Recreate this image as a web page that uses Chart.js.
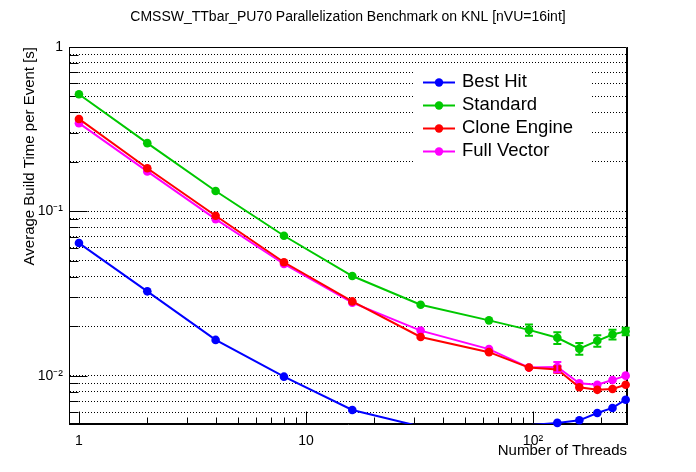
<!DOCTYPE html>
<html>
<head>
<meta charset="utf-8">
<script src="https://cdn.jsdelivr.net/npm/chart.js@4.4.0/dist/chart.umd.min.js"></script>
<style>
  html, body { margin: 0; padding: 0; background: #fff; }
  #wrap { width: 696px; height: 472px; }
</style>
</head>
<body>
<div id="wrap"><canvas id="miGrafica"></canvas></div>
<script>
// Datos
const threads = [1, 2, 4, 8, 16, 32, 64, 96, 128, 160, 192, 224, 256];
const bestHit = [0.0641, 0.0326, 0.0165, 0.00986, 0.00618, 0.0049, 0.0046, 0.0050, 0.00516, 0.00535, 0.00593, 0.00636, 0.00714];
const standard = [0.516, 0.26, 0.133, 0.071, 0.0404, 0.027, 0.0217, 0.019, 0.017, 0.0146, 0.0163, 0.0178, 0.0186];
const cloneEngine = [0.365, 0.183, 0.094, 0.049, 0.0283, 0.0172, 0.0139, 0.0112, 0.0109, 0.0085, 0.0082, 0.0083, 0.0088];
const fullVector = [0.344, 0.175, 0.0897, 0.0478, 0.0278, 0.0188, 0.0145, 0.0112, 0.0113, 0.0090, 0.0088, 0.0094, 0.0100];

// Barras de error (null = sin barra)
const standardErr = [null, null, null, null, null, null, null, 0.0015, 0.0014, 0.0012, 0.0013, 0.0012, 0.0010];
const cloneEngineErr = [null, null, null, null, null, null, null, null, 0.0005, null, null, null, null];
const fullVectorErr = [null, null, null, null, null, null, null, null, 0.0008, null, null, null, null];

// Ticks de los ejes
const xTicks = [1, 2, 3, 4, 5, 6, 7, 8, 9, 10, 20, 30, 40, 50, 60, 70, 80, 90, 100, 200];
const yTicks = [0.006, 0.007, 0.008, 0.009, 0.01, 0.02, 0.03, 0.04, 0.05, 0.06, 0.07, 0.08, 0.09,
                0.1, 0.2, 0.3, 0.4, 0.5, 0.6, 0.7, 0.8, 0.9, 1];
const xLabels = { 1: '1', 10: '10', 100: '10²' };
const yLabels = { 1: '1', 0.1: '10⁻¹', 0.01: '10⁻²' };
const xMin = 0.904, xMax = 259.5;
const yMin = 0.00508, yMax = 1;

const FONT = "'Liberation Sans', Arial, Helvetica, sans-serif";

const series = [
    { label: 'Best Hit', values: bestHit, err: null, color: '#0000ff' },
    { label: 'Standard', values: standard, err: standardErr, color: '#00c800' },
    { label: 'Clone Engine', values: cloneEngine, err: cloneEngineErr, color: '#ff0000' },
    { label: 'Full Vector', values: fullVector, err: fullVectorErr, color: '#ff00ff' }
];

function toPoints(values) {
    return threads.map((t, i) => ({ x: t, y: values[i] }));
}

// Líneas (recortadas al marco) y marcadores (sin recorte) por separado
const datasets = [];
series.forEach(s => {
    datasets.push({
        label: s.label,
        data: toPoints(s.values),
        borderColor: s.color,
        borderWidth: 2,
        pointRadius: 0,
        tension: 0,
        clip: 0
    });
    datasets.push({
        label: s.label + ' markers',
        data: toPoints(s.values),
        showLine: false,
        pointRadius: ctx => (ctx.raw && ctx.raw.y < yMin ? 0 : 4.3),
        pointBackgroundColor: s.color,
        pointBorderWidth: 0,
        clip: false
    });
});

// Barras de error
const errorBars = {
    id: 'errorBars',
    afterDatasetsDraw(chart) {
        const { ctx, scales: { x, y } } = chart;
        ctx.save();
        ctx.lineWidth = 2;
        series.forEach(s => {
            if (!s.err) return;
            ctx.strokeStyle = s.color;
            s.err.forEach((e, i) => {
                if (e == null) return;
                const px = x.getPixelForValue(threads[i]);
                const top = y.getPixelForValue(s.values[i] + e);
                const bot = y.getPixelForValue(s.values[i] - e);
                ctx.beginPath();
                ctx.moveTo(px, top); ctx.lineTo(px, bot);
                ctx.moveTo(px - 4, top); ctx.lineTo(px + 4, top);
                ctx.moveTo(px - 4, bot); ctx.lineTo(px + 4, bot);
                ctx.stroke();
            });
        });
        ctx.restore();
    }
};

// Marcas hacia dentro y marco completo, al estilo ROOT
const innerTicks = {
    id: 'innerTicks',
    beforeDatasetsDraw(chart) {
        const { ctx, chartArea: a, scales: { x, y } } = chart;
        const L = Math.round(a.left) + 0.5, R = Math.round(a.right) - 0.5;
        const T = Math.round(a.top) + 0.5, B = Math.round(a.bottom) - 0.5;
        ctx.save();
        ctx.strokeStyle = '#000';
        ctx.lineWidth = 1;
        ctx.setLineDash([]);
        ctx.beginPath();
        xTicks.forEach(v => {
            const px = Math.round(x.getPixelForValue(v)) + 0.5;
            const len = xLabels[v] ? 12 : 6;
            ctx.moveTo(px, B);
            ctx.lineTo(px, B - len);
        });
        yTicks.forEach(v => {
            const py = Math.round(y.getPixelForValue(v)) + 0.5;
            const len = yLabels[v] ? 18 : 9;
            ctx.moveTo(L, py);
            ctx.lineTo(L + len, py);
        });
        ctx.rect(L, T, R - L, B - T);
        ctx.stroke();
        ctx.restore();
    }
};

// Leyenda dentro del marco
const innerLegend = {
    id: 'innerLegend',
    afterDatasetsDraw(chart) {
        const { ctx } = chart;
        ctx.save();
        ctx.fillStyle = '#fff';
        ctx.fillRect(415, 66, 175, 101);
        ctx.font = '18.5px ' + FONT;
        ctx.textBaseline = 'middle';
        ctx.textAlign = 'left';
        series.forEach((s, i) => {
            const yy = 82.5 + i * 23;
            ctx.strokeStyle = s.color;
            ctx.lineWidth = 2;
            ctx.beginPath();
            ctx.moveTo(423, yy); ctx.lineTo(455, yy);
            ctx.stroke();
            ctx.fillStyle = s.color;
            ctx.beginPath();
            ctx.arc(439, yy, 4.2, 0, Math.PI * 2);
            ctx.fill();
            ctx.fillStyle = '#000';
            ctx.fillText(s.label, 462, yy - 1);
        });
        ctx.restore();
    }
};

const ctx = document.getElementById('miGrafica').getContext('2d');
new Chart(ctx, {
    type: 'line',
    data: { datasets: datasets },
    plugins: [innerTicks, errorBars, innerLegend],
    options: {
        responsive: true,
        maintainAspectRatio: false,
        animation: false,
        layout: { padding: 0 },
        plugins: {
            legend: { display: false },
            tooltip: { enabled: false },
            title: {
                display: true,
                text: 'CMSSW_TTbar_PU70 Parallelization Benchmark on KNL [nVU=16int]',
                color: '#000',
                font: { family: FONT, size: 14, weight: 'normal' },
                padding: { top: 9, bottom: 21.2 }
            }
        },
        scales: {
            x: {
                type: 'logarithmic',
                min: xMin,
                max: xMax,
                afterBuildTicks: scale => { scale.ticks = xTicks.map(v => ({ value: v })); },
                afterFit: scale => { scale.height = 48; },
                grid: { display: false, drawTicks: false },
                border: { display: true, color: '#000', width: 1 },
                ticks: {
                    autoSkip: false,
                    maxRotation: 0,
                    padding: 9,
                    color: '#000',
                    font: { family: FONT, size: 14 },
                    callback: v => xLabels[v] || ''
                },
                title: {
                    display: true,
                    text: 'Number of Threads',
                    align: 'end',
                    color: '#000',
                    font: { family: FONT, size: 15 },
                    padding: { top: 0, bottom: 12 }
                }
            },
            y: {
                type: 'logarithmic',
                min: yMin,
                max: yMax,
                afterBuildTicks: scale => { scale.ticks = yTicks.map(v => ({ value: v })); },
                afterFit: scale => { scale.width = 69; },
                grid: {
                    drawTicks: false,
                    color: '#000',
                    lineWidth: 1
                },
                border: { display: true, color: '#000', width: 1, dash: [1, 2] },
                ticks: {
                    autoSkip: false,
                    padding: 6,
                    color: '#000',
                    font: { family: FONT, size: 14 },
                    callback: v => yLabels[v] || ''
                },
                title: {
                    display: true,
                    text: 'Average Build Time per Event [s]',
                    align: 'end',
                    color: '#000',
                    font: { family: FONT, size: 15 },
                    padding: { top: 21, bottom: 0 }
                }
            },
            y2: {
                type: 'linear',
                position: 'right',
                min: 0,
                max: 1,
                afterFit: scale => { scale.width = 69; },
                grid: { display: false, drawTicks: false },
                border: { display: true, color: '#000', width: 1 },
                ticks: { display: false }
            }
        }
    }
});
</script>
</body>
</html>
